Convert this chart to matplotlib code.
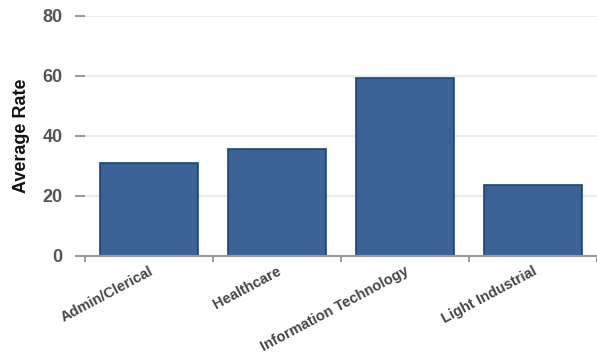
import numpy as np
import matplotlib.pyplot as plt

categories = ['Admin/Clerical', 'Healthcare', 'Information Technology', 'Light Industrial']
avg_rate = [31.0, 35.8, 59.5, 23.6]
y_ticks = [0, 20, 40, 60, 80]

plt.rcParams['font.family'] = ['Liberation Sans', 'DejaVu Sans']

fig = plt.figure(figsize=(5.97, 3.59), dpi=100)
ax = fig.add_axes([85/597, 1-256/359, 512/597, 240/359])

x = np.arange(len(categories))
ax.bar(x, avg_rate, width=0.77, color='#3a6294', edgecolor='#1f4373', linewidth=1.2, zorder=3)

ax.set_xlim(-0.5, len(categories)-0.5)
ax.set_ylim(0, 80)
ax.set_yticks(y_ticks)
ax.set_yticklabels([str(t) for t in y_ticks], fontsize=13, fontweight='bold', color='#555555')
ax.yaxis.grid(True, color='#ececec', linewidth=1.5, zorder=0)
ax.tick_params(axis='y', length=7, width=1.5, color='#999999', pad=9)

# tick marks at the category edges, labels at the centres
ax.set_xticks(np.arange(-0.5, len(categories), 1.0), minor=True)
ax.tick_params(axis='x', which='minor', length=4, width=1.2, color='#888888', direction='out')
ax.set_xticks(x)
ax.set_xticklabels(categories, rotation=28, ha='right', rotation_mode='anchor',
                   fontsize=10.5, fontweight='bold', color='#444444')
ax.tick_params(axis='x', which='major', length=0, pad=6)

for s in ['top', 'right', 'left']:
    ax.spines[s].set_visible(False)
ax.spines['bottom'].set_color('#999999')
ax.spines['bottom'].set_linewidth(1.5)
ax.spines['bottom'].set_zorder(4)

ax.set_ylabel('Average Rate', fontsize=13, fontweight='bold', color='#111111', labelpad=9)

fig.savefig('out.png', dpi=100)
